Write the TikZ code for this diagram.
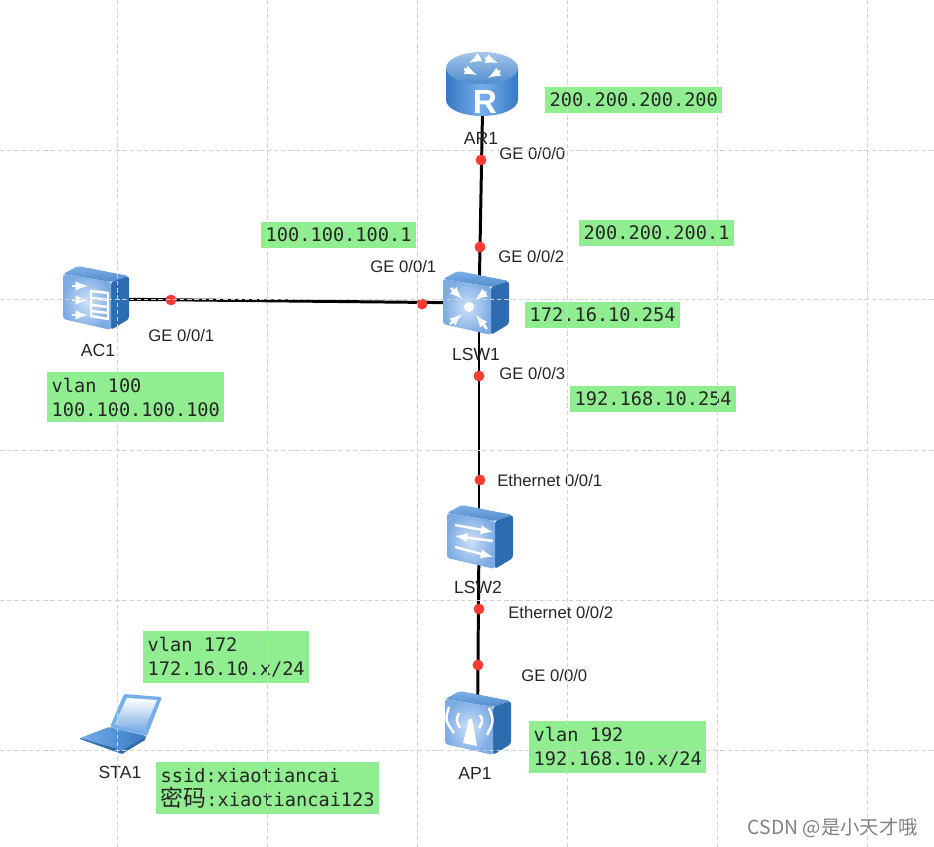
\documentclass[tikz,border=0pt]{standalone}
\usepackage{fontspec}
\setmainfont{Liberation Sans}
\newfontfamily\notefont{DejaVu Sans Mono}
\newfontfamily\cjk{Noto Sans CJK SC}
\definecolor{noteGreen}{RGB}{144,238,144}
\definecolor{portRed}{RGB}{250,60,50}
\definecolor{labelInk}{RGB}{35,35,45}
\definecolor{faceLight}{RGB}{205,225,248}
\definecolor{faceEdge}{RGB}{125,172,228}
\definecolor{topLight}{RGB}{125,175,230}
\definecolor{topDark}{RGB}{80,140,205}
\definecolor{sideDark}{RGB}{45,108,175}
\definecolor{drumMid}{RGB}{120,175,235}
\definecolor{drumEdge}{RGB}{55,120,195}
\tikzset{
	gridline/.style={gray!35, line width=.5pt, dash pattern=on 2.5pt off 1.6pt},
	link/.style={black, line width=1.7pt},
	device/.style={inner sep=0pt, minimum size=30pt},
	portdot/.style={circle, fill=portRed, inner sep=0pt, minimum size=6.2pt},
	portlabel/.style={anchor=west, inner sep=0pt, text=labelInk, font=\fontsize{9.5}{11}\selectfont},
	devlabel/.style={inner sep=0pt, text=labelInk, font=\fontsize{10}{12}\selectfont},
	note/.style={anchor=north west, fill=noteGreen, align=left, inner xsep=2.5pt, inner ysep=3.3pt, text=black!85, font=\notefont\fontsize{10.6}{13.6}\selectfont},
	whiteline/.style={white, line width=1.4pt},
	whitearrow/.style={white, line width=1.4pt, -latex},
	boxbody/.pic={
		\shade[top color=topLight, bottom color=topDark, rounded corners=1.5] (-33,-24) -- (-18,-32) -- (33,-22) -- (15,-16) -- cycle;
		\fill[sideDark, rounded corners=1.5] (15,-16) -- (33,-22) -- (33,21) -- (15,32) -- cycle;
		\shade[inner color=faceLight, outer color=faceEdge, rounded corners=1.5] (-33,-24) -- (15,-16) -- (15,32) -- (-33,21) -- cycle;
	},
	corepic/.pic={
		\pic {boxbody};
		\fill[white] (-7,4) circle (5);
		\draw[whitearrow] (-25,-15) -- (-14,-4);
		\draw[whitearrow] (10,-11) -- (-1,-3);
		\draw[whitearrow] (-26,21) -- (-14,11);
		\draw[whitearrow] (11,26) -- (0,12);
	},
	acpic/.pic={
		\pic {boxbody};
		\draw[whitearrow] (-24,-12) -- (-8,-12);
		\draw[whitearrow] (-24,2) -- (-8,2);
		\draw[whitearrow] (-24,17) -- (-8,17);
		\draw[whiteline] (-5,-7) -- (12,-5) -- (12,21) -- (-5,18) -- cycle;
		\draw[whiteline] (-5,0) -- (12,2);
		\draw[whiteline] (-5,7) -- (12,9);
		\draw[whiteline] (-5,13) -- (12,15);
	},
	switchpic/.pic={
		\pic {boxbody};
		\draw[whitearrow] (-25,-12) -- (13,-5);
		\draw[whitearrow] (13,4) -- (-25,-1);
		\draw[whitearrow] (-25,10) -- (13,20);
	},
	appic/.pic={
		\pic {boxbody};
		\fill[white] (-9,-4) -- (-6,-4) -- (-1,23) -- (-15,20) -- cycle;
		\draw[whiteline] (-19,-10) .. controls (-22,-3) .. (-18,5);
		\draw[whiteline] (-29,-16) .. controls (-33,-3) .. (-24,10);
		\draw[whiteline] (2,-8) .. controls (5,-2) .. (1,5);
		\draw[whiteline] (11,-15) .. controls (16,-2) .. (9,12);
	},
	routerpic/.pic={
		\shade[left color=drumEdge, right color=drumEdge, middle color=drumMid] (-36,-16) -- (-36,16) arc[start angle=180, end angle=0, x radius=36, y radius=16] -- (36,-16) -- cycle;
		\shade[top color=faceEdge!70!white, bottom color=topDark] (0,-16) ellipse (36 and 16);
		\draw[whitearrow] (-2,-27) -- (-13,-21);
		\draw[whitearrow] (3,-26) -- (16,-21);
		\draw[whitearrow] (-18,-15) -- (-5,-9);
		\draw[whitearrow] (18,-13) -- (6,-6);
		\node[text=white, inner sep=0pt, font=\bfseries\fontsize{19}{19}\selectfont] (routerR) at (3,18) {R};
	},
	laptoppic/.pic={
		\fill[drumMid, rounded corners=.8] (124,694) -- (162,697) -- (147,736) -- (110,727) -- cycle;
		\shade[top color=white, bottom color=faceEdge] (127,698) -- (157,700) -- (144,731) -- (114,725) -- cycle;
		\shade[left color=drumMid, right color=drumEdge, rounded corners=.8] (80,738) -- (109,727) -- (146,736) -- (122,750) -- cycle;
		\fill[sideDark] (122,750) -- (146,736) -- (145,740) -- (122,754) -- (80,739) -- (80,738) -- cycle;
	}
}

\begin{document}
\begin{tikzpicture}[x=0.02cm, y=-0.02cm]
\useasboundingbox (0,0) rectangle (934,847);
\node [device] (ar1) at (483,84) {};
\node [device] (lsw1) at (479,303) {};
\node [device] (lsw2) at (479,538) {};
\node [device] (ap1) at (477.5,723) {};
\node [device] (ac1) at (97,299) {};
\node [device] (sta1) at (120,722) {};
\draw [link] (ar1) -- (lsw1);
\draw [link] (lsw1) -- (lsw2);
\draw [link] (lsw2) -- (ap1);
\draw [link] (ac1) -- (lsw1);
\pic at (482,84) {routerpic};
\pic at (476,303) {corepic};
\pic at (480,537) {switchpic};
\pic at (478,723) {appic};
\pic at (96,298) {acpic};
\pic at (0,0) {laptoppic};
\node [portdot] (p1) at (481,160) {};
\node [portdot] (p2) at (480,247) {};
\node [portdot] (p3) at (422,304) {};
\node [portdot] (p4) at (171,300) {};
\node [portdot] (p5) at (479,376) {};
\node [portdot] (p6) at (480,480) {};
\node [portdot] (p7) at (479,609) {};
\node [portdot] (p8) at (478,665) {};
\node [devlabel] (ar1text) at (481,138) {AR1};
\node [devlabel] (lsw1text) at (476,354) {LSW1};
\node [devlabel] (lsw2text) at (478,587) {LSW2};
\node [devlabel] (ap1text) at (475,773) {AP1};
\node [devlabel] (ac1text) at (98,350) {AC1};
\node [devlabel] (sta1text) at (120,772) {STA1};
\node [portlabel] (p1text) at (499,154) {GE 0/0/0};
\node [portlabel] (p2text) at (498,257) {GE 0/0/2};
\node [portlabel] (p3text) at (370,267) {GE 0/0/1};
\node [portlabel] (p4text) at (148,336) {GE 0/0/1};
\node [portlabel] (p5text) at (499,374) {GE 0/0/3};
\node [portlabel] (p6text) at (497,481) {Ethernet 0/0/1};
\node [portlabel] (p7text) at (508,613) {Ethernet 0/0/2};
\node [portlabel] (p8text) at (521,676) {GE 0/0/0};
\node [note] (n1) at (545,87) {200.200.200.200};
\node [note] (n2) at (579,220) {200.200.200.1};
\node [note] (n3) at (525,302) {172.16.10.254};
\node [note] (n4) at (570,386) {192.168.10.254};
\node [note] (n5) at (261,222) {100.100.100.1};
\node [note] (n6) at (47,372) {vlan 100\\100.100.100.100};
\node [note] (n7) at (143,631) {vlan 172\\172.16.10.x/24};
\node [note] (n8) at (156,762) {ssid:xiaotiancai\\{\cjk\fontsize{13}{13.6}\selectfont 密码}:xiaotiancai123};
\node [note] (n9) at (529,721) {vlan 192\\192.168.10.x/24};
\node [anchor=east, inner sep=0pt, text=gray, font=\cjk\fontsize{11}{13}\selectfont] (mark) at (918,828) {CSDN @是小天才哦};
\foreach \gx in {117,267,417,567,717,867}
	\draw [gridline] (\gx,0) -- (\gx,847);
\foreach \gy in {150,299,450,600,750}
	\draw [gridline] (0,\gy) -- (934,\gy);
\end{tikzpicture}
\end{document}
